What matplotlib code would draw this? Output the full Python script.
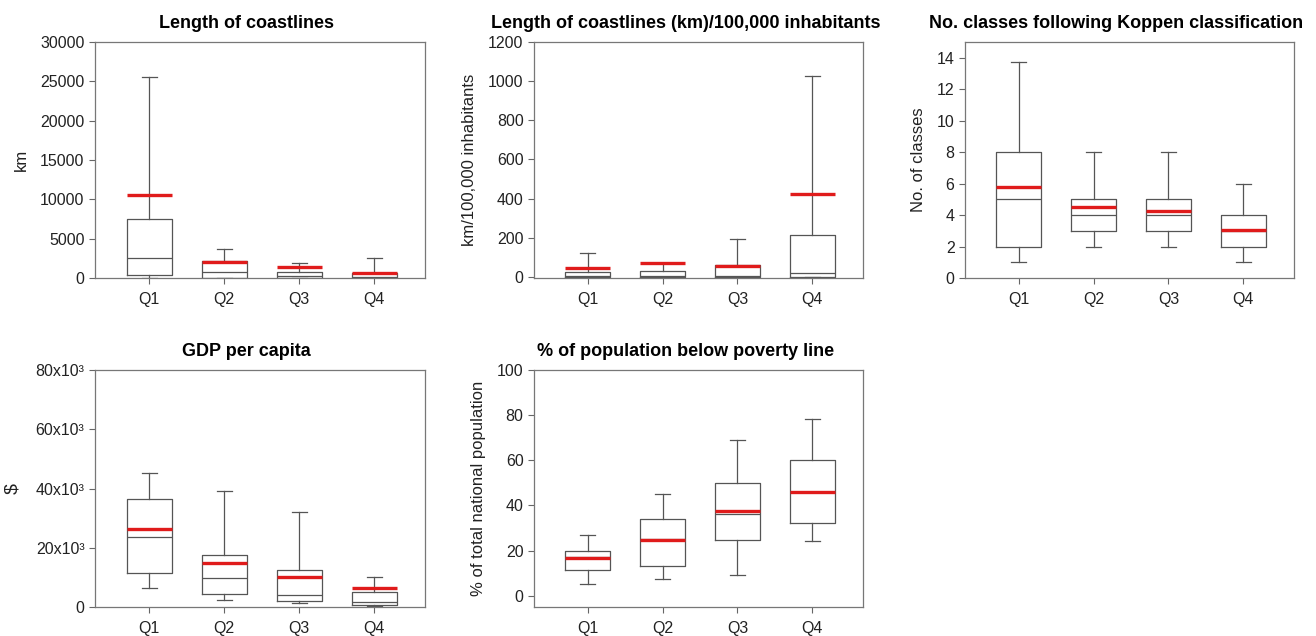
import matplotlib.pyplot as plt
from matplotlib.ticker import FuncFormatter

plt.rcParams["font.family"] = ["Liberation Sans", "DejaVu Sans"]

quartiles = ["Q1", "Q2", "Q3", "Q4"]

# box statistics per quartile: lower whisker, q1, median, q3, upper whisker, mean
coast_lo = [20, 20, 20, 10]
coast_q1 = [400, 60, 30, 10]
coast_med = [2500, 720, 250, 130]
coast_q3 = [7500, 2100, 720, 600]
coast_hi = [25500, 3700, 1850, 2500]
coast_mean = [10600, 2050, 1450, 650]

percap_lo = [1, 1, 1, 0]
percap_q1 = [2, 2, 2, 1]
percap_med = [7, 7, 7, 20]
percap_q3 = [26, 32, 62, 212]
percap_hi = [124, 72, 192, 1025]
percap_mean = [44, 73, 58, 422]

koppen_lo = [1, 2, 2, 1]
koppen_q1 = [2, 3, 3, 2]
koppen_med = [5, 4, 4, 3]
koppen_q3 = [8, 5, 5, 4]
koppen_hi = [13.7, 8, 8, 6]
koppen_mean = [5.8, 4.5, 4.25, 3.05]

gdp_lo = [6500, 2500, 1400, 450]
gdp_q1 = [11600, 4300, 2000, 800]
gdp_med = [23700, 9800, 4200, 1700]
gdp_q3 = [36400, 17700, 12600, 5100]
gdp_hi = [45400, 39200, 32100, 10000]
gdp_mean = [26400, 14900, 10000, 6500]

pov_lo = [5.2, 7.4, 9.2, 24.3]
pov_q1 = [11.4, 13.2, 24.9, 32.2]
pov_med = [17, 25, 36.4, 46]
pov_q3 = [20, 34, 50, 60]
pov_hi = [26.9, 45.1, 68.9, 78.3]
pov_mean = [16.9, 24.9, 37.4, 46]

BOX_COLOR = "#555555"
MEAN_COLOR = "#e01b1b"


def make_stats(lo, q1, med, q3, hi, mean):
    return [dict(label=q, whislo=a, q1=b, med=c, q3=d, whishi=e, mean=m, fliers=[])
            for q, a, b, c, d, e, m in zip(quartiles, lo, q1, med, q3, hi, mean)]


def draw_panel(ax, stats, title, ylabel, ylim, yticks, fmt=None):
    line = dict(color=BOX_COLOR, linewidth=0.9)
    ax.bxp(stats, positions=[1, 2, 3, 4], widths=0.6, capwidths=0.2,
           showmeans=True, meanline=True, showfliers=False,
           boxprops=line, whiskerprops=line, capprops=line, medianprops=line,
           meanprops=dict(color=MEAN_COLOR, linewidth=2.4, linestyle="-"))
    ax.set_xlim(0.28, 4.68)
    ax.set_ylim(*ylim)
    ax.set_yticks(yticks)
    if fmt is not None:
        ax.yaxis.set_major_formatter(FuncFormatter(fmt))
    ax.set_title(title, fontsize=13, fontweight="bold", x=0.46, pad=10)
    ax.set_ylabel(ylabel, fontsize=12, color="#222222", labelpad=8)
    ax.tick_params(axis="both", labelsize=11.5, colors="#666666", labelcolor="#222222",
                   length=4, width=0.8)
    ax.tick_params(axis="x", pad=6)
    for spine in ax.spines.values():
        spine.set_color("#777777")
        spine.set_linewidth(0.9)


fig = plt.figure(figsize=(13.16, 6.36), dpi=100)

ax1 = fig.add_axes([0.0722, 0.5629, 0.2508, 0.3711])
ax2 = fig.add_axes([0.4058, 0.5629, 0.2500, 0.3711])
ax3 = fig.add_axes([0.7333, 0.5629, 0.2500, 0.3711])
ax4 = fig.add_axes([0.0722, 0.0456, 0.2508, 0.3726])
ax5 = fig.add_axes([0.4058, 0.0456, 0.2500, 0.3726])

draw_panel(ax1, make_stats(coast_lo, coast_q1, coast_med, coast_q3, coast_hi, coast_mean),
           "Length of coastlines", "km", (0, 30000), range(0, 30001, 5000))
draw_panel(ax2, make_stats(percap_lo, percap_q1, percap_med, percap_q3, percap_hi, percap_mean),
           "Length of coastlines (km)/100,000 inhabitants", "km/100,000 inhabitants",
           (-5, 1200), range(0, 1201, 200))
draw_panel(ax3, make_stats(koppen_lo, koppen_q1, koppen_med, koppen_q3, koppen_hi, koppen_mean),
           "No. classes following Koppen classification", "No. of classes",
           (0, 15), range(0, 15, 2))
draw_panel(ax4, make_stats(gdp_lo, gdp_q1, gdp_med, gdp_q3, gdp_hi, gdp_mean),
           "GDP per capita", "$", (0, 80000), range(0, 80001, 20000),
           fmt=lambda v, p: "0" if v == 0 else f"{int(v / 1000)}x10³")
draw_panel(ax5, make_stats(pov_lo, pov_q1, pov_med, pov_q3, pov_hi, pov_mean),
           "% of population below poverty line", "% of total national population",
           (-5, 100), range(0, 101, 20))
ax4.set_ylabel("$", fontsize=14, color="#222222", labelpad=10)

fig.savefig("out.png", dpi=100)
